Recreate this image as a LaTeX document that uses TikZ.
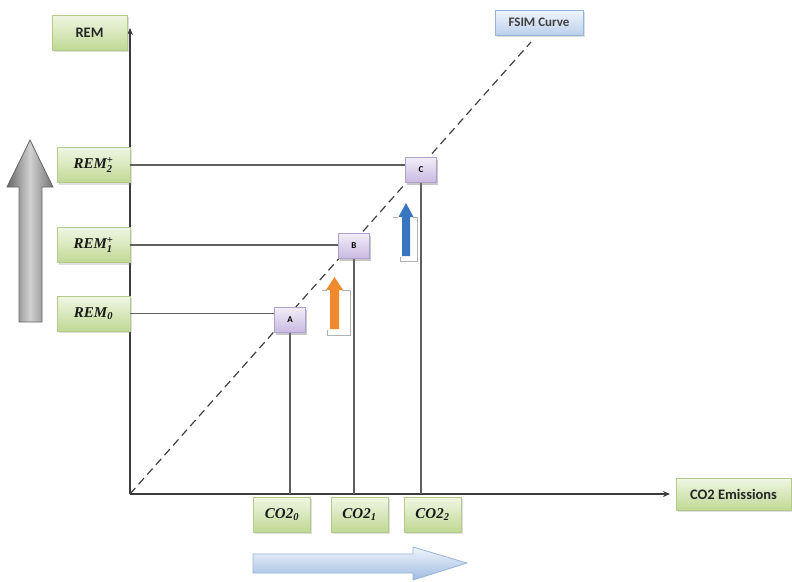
\documentclass[tikz,border=0pt]{standalone}
\usepackage{amsmath}
\usepackage{fontspec}
\newfontfamily\calib{Carlito}
\newfontfamily\serifbi{Liberation Serif}
\usetikzlibrary{arrows.meta,shadows}
\definecolor{gEdge}{RGB}{180,202,140}
\definecolor{gTop}{RGB}{240,246,228}
\definecolor{gBot}{RGB}{192,217,148}
\definecolor{pEdge}{RGB}{175,160,205}
\definecolor{pTop}{RGB}{242,237,248}
\definecolor{pBot}{RGB}{200,186,226}
\definecolor{bEdge}{RGB}{150,180,215}
\definecolor{bTop}{RGB}{240,245,252}
\definecolor{bBot}{RGB}{188,208,236}
\definecolor{axisC}{RGB}{60,60,60}
\definecolor{lineC}{RGB}{95,95,95}
\definecolor{orangeA}{RGB}{240,138,44}
\definecolor{blueA}{RGB}{58,118,192}
\tikzset{
  shad/.style={drop shadow={opacity=0.25,shadow xshift=1.5pt,shadow yshift=-2pt}},
  greenbox/.style={shad,draw=gEdge,top color=gTop,bottom color=gBot,minimum width=73pt,minimum height=35pt,inner sep=0pt,font=\serifbi\bfseries\itshape\fontsize{15}{16}\selectfont,text=black!90},
  co2box/.style={greenbox,minimum width=57pt},
  labbox/.style={shad,draw=gEdge,top color=gTop,bottom color=gBot,inner sep=0pt,font=\calib\bfseries\fontsize{14.5}{16}\selectfont,text=black!85},
  ptbox/.style={shad,draw=pEdge,top color=pTop,bottom color=pBot,minimum width=31pt,minimum height=25pt,inner sep=0pt,font=\calib\bfseries\fontsize{9}{10}\selectfont},
  fsimbox/.style={shad,draw=bEdge,top color=bTop,bottom color=bBot,minimum width=88pt,minimum height=25pt,inner sep=0pt,font=\calib\bfseries\fontsize{13}{14}\selectfont,text=black!75},
  axisline/.style={draw=axisC,line width=1.2pt,-{Stealth[length=7pt,width=6pt]}},
  conn/.style={draw=lineC,line width=1.2pt},
  curve/.style={draw=black!75,line width=1.2pt,dash pattern=on 8pt off 5pt},
  ghost/.style={draw=black!30,line width=1pt}
}
\begin{document}
\begin{tikzpicture}[x=1pt,y=-1pt]
\useasboundingbox (0,0) rectangle (792,581);
% coordinates
\coordinate (O) at (130,494);
\coordinate (ytop) at (130,28);
\coordinate (xend) at (670,494);
\coordinate (cend) at (531,42);
% curve
\draw[curve] (O) -- (cend);
% axes
\draw[axisline] (O) -- (ytop);
\draw[axisline] (O) -- (xend);
% points
\node[ptbox] (A) at (290,320) {A};
\node[ptbox] (B) at (354,246) {B};
\node[ptbox] (C) at (421,170) {C};
% REM boxes
\node[greenbox] (r2) at (93.5,165) {$\text{REM}_{\text{2}}^{\text{+}}$};
\node[greenbox] (r1) at (93.5,245) {$\text{REM}_{\text{1}}^{\text{+}}$};
\node[greenbox] (r0) at (93.5,313.5) {$\text{REM}_{\text{0}}$};
% connectors
\draw[conn] (r2.east) -- (r2.east -| C.west);
\draw[conn] (r1.east) -- (r1.east -| B.west);
\draw[conn] (r0.east) -- (r0.east -| A.west);
\coordinate (Ab) at (A.south |- O);
\coordinate (Bb) at (B.south |- O);
\coordinate (Cb) at (C.south |- O);
\draw[conn] (A.south) -- (Ab);
\draw[conn] (B.south) -- (Bb);
\draw[conn] (C.south) -- (Cb);
% redraw point boxes above lines
\node[ptbox] at (A) {A};
\node[ptbox] at (B) {B};
\node[ptbox] at (C) {C};
% CO2 boxes
\node[co2box] (c0) at (282,514.5) {$\text{CO2}_{\text{0}}$};
\node[co2box] (c1) at (359.5,514.5) {$\text{CO2}_{\text{1}}$};
\node[co2box] (c2) at (432.5,514.5) {$\text{CO2}_{\text{2}}$};
% labels
\node[labbox,minimum width=75pt,minimum height=35pt] (rem) at (89.5,32.5) {REM};
\node[labbox,minimum width=115pt,minimum height=32pt] (co2e) at (733.5,494) {CO2 Emissions};
\node[fsimbox] (fsim) at (539,22.5) {FSIM Curve};
% big gray arrow
\shade[left color=black!60,right color=black!55,middle color=black!18,draw=black!60,line width=0.8pt]
  (19,322) -- (42,322) -- (42,187) -- (53,187) -- (30,140) -- (7,187) -- (19,187) -- cycle;
% big blue arrow
\shade[top color=bTop,bottom color={rgb,255:red,160;green,188;blue,225},draw=bEdge,line width=0.8pt]
  (253,554) -- (413,554) -- (413,547) -- (467,563) -- (413,580) -- (413,573) -- (253,573) -- cycle;
% orange arrow with ghost outline
\draw[ghost] (322,290) -- (327,290);
\draw[ghost] (342,290) -- (350,290) -- (350,335) -- (327,335) -- (327,330);
\fill[orangeA] (330,329) -- (339,329) -- (339,290) -- (343,290) -- (334.5,277) -- (326,290) -- (330,290) -- cycle;
% blue arrow with ghost outline
\draw[ghost] (393,217) -- (398,217);
\draw[ghost] (413,217) -- (417,217) -- (417,261) -- (400,261) -- (400,257);
\fill[blueA] (402,256) -- (410,256) -- (410,217) -- (413.5,217) -- (406,203) -- (398.5,217) -- (402,217) -- cycle;
\end{tikzpicture}
\end{document}
